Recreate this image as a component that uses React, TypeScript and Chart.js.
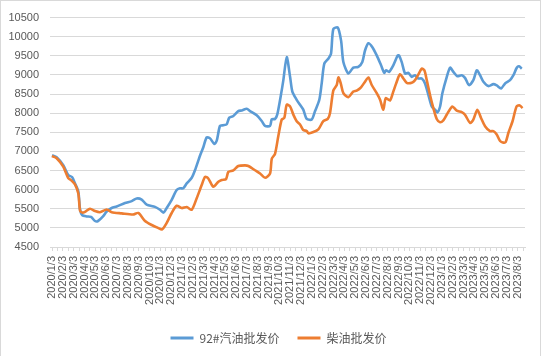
import React, { useEffect, useRef } from "react";
import { Chart, registerables } from "chart.js";

Chart.register(...registerables);

const monthLabels = [
  "2020/1/3", "2020/2/3", "2020/3/3", "2020/4/3", "2020/5/3", "2020/6/3", "2020/7/3", "2020/8/3", "2020/9/3", "2020/10/3", "2020/11/3", "2020/12/3",
  "2021/1/3", "2021/2/3", "2021/3/3", "2021/4/3", "2021/5/3", "2021/6/3", "2021/7/3", "2021/8/3", "2021/9/3", "2021/10/3", "2021/11/3", "2021/12/3",
  "2022/1/3", "2022/2/3", "2022/3/3", "2022/4/3", "2022/5/3", "2022/6/3", "2022/7/3", "2022/8/3", "2022/9/3", "2022/10/3", "2022/11/3", "2022/12/3",
  "2023/1/3", "2023/2/3", "2023/3/3", "2023/4/3", "2023/5/3", "2023/6/3", "2023/7/3", "2023/8/3",
];

// position in months since 2020/1/3
const gasolineMonths = [
  0, 0.43, 1.04, 1.5, 1.85, 2.12, 2.43, 2.59, 2.8, 3.2,
  3.6, 3.97, 4.25, 4.71, 5.05, 5.51, 5.97, 6.74, 7.36, 7.82,
  8.28, 8.74, 9.51, 9.97, 10.28, 10.59, 11.05, 11.51, 11.82, 12.12,
  12.44, 12.9, 13.2, 13.67, 13.97, 14.28, 14.59, 14.99, 15.21, 15.51,
  15.82, 16.13, 16.37, 16.74, 17.2, 17.52, 17.98, 18.28, 18.9, 19.36,
  19.67, 20.13, 20.29, 20.59, 20.8, 21.15, 21.36, 21.67, 21.98, 22.19,
  22.59, 22.9, 23.2, 23.52, 23.98, 24.28, 24.68, 24.9, 25.14, 25.51,
  25.76, 25.97, 26.38, 26.69, 26.9, 27.36, 27.82, 28.28, 28.65, 28.9,
  29.21, 29.58, 29.98, 30.38, 30.68, 30.84, 31.12, 31.51, 31.92, 32.04,
  32.29, 32.6, 32.9, 33.21, 33.52, 33.82, 34.14, 34.44, 34.75, 35.06,
  35.37, 35.58, 35.83, 36.04, 36.45, 36.75, 37.06, 37.42, 37.83, 38.13,
  38.5, 38.9, 39.22, 39.52, 39.83, 40.29, 40.75, 41.06, 41.46, 41.83,
  42.29, 42.6, 42.91, 43.12, 43.37,
];
const gasolinePrices = [
  6900, 6850, 6640, 6380, 6330, 6165, 5950, 5480, 5330, 5300,
  5290, 5180, 5180, 5300, 5430, 5520, 5560, 5650, 5700, 5770,
  5740, 5610, 5550, 5475, 5400, 5520, 5733, 5990, 6035, 6035,
  6163, 6310, 6507, 6894, 7110, 7367, 7341, 7195, 7281, 7668,
  7685, 7711, 7883, 7926, 8055, 8072, 8115, 8055, 7943, 7797,
  7668, 7668, 7840, 7850, 7969, 8500, 8866, 9468, 8952, 8565,
  8350, 8221, 8092, 7851, 7834, 8049, 8350, 8780, 9296, 9425,
  9554, 10199, 10242, 9898, 9339, 9038, 9193, 9210, 9339, 9640,
  9829, 9726, 9511, 9253, 9055, 9124, 9081, 9253, 9511, 9509,
  9337, 9036, 9053, 8950, 8993, 8907, 8907, 8778, 8477, 8176,
  8090, 8021, 8176, 8520, 8950, 9190, 9079, 8967, 8993, 8924,
  8735, 8864, 9122, 8993, 8821, 8709, 8760, 8726, 8649, 8778,
  8864, 8993, 9190, 9225, 9165,
];

const dieselMonths = [
  0, 0.43, 1.04, 1.5, 1.75, 2.12, 2.43, 2.59, 2.8, 3.05,
  3.51, 3.97, 4.43, 5.05, 5.51, 6.44, 7.48, 7.97, 8.59, 9.21,
  9.79, 10.16, 10.59, 11.05, 11.51, 11.98, 12.44, 12.9, 13.36, 13.82,
  14.13, 14.43, 14.89, 15.36, 15.67, 16.07, 16.28, 16.74, 17.2, 17.82,
  18.13, 18.74, 19.21, 19.67, 20.13, 20.29, 20.59, 20.9, 21.21, 21.45,
  21.67, 21.98, 22.28, 22.59, 22.9, 23.2, 23.52, 23.67, 24.13, 24.59,
  25.05, 25.46, 25.67, 25.97, 26.29, 26.44, 26.66, 26.9, 27.36, 27.82,
  28.13, 28.53, 28.9, 29.21, 29.52, 29.98, 30.29, 30.59, 30.81, 31.21,
  31.51, 31.83, 32.13, 32.44, 32.75, 33.21, 33.52, 33.82, 34.14, 34.38,
  34.6, 34.9, 35.21, 35.52, 35.83, 36.13, 36.44, 36.96, 37.37, 37.83,
  38.13, 38.6, 38.9, 39.27, 39.61, 39.98, 40.44, 40.75, 41.06, 41.37,
  41.67, 41.89, 42.14, 42.52, 42.89, 43.19, 43.44,
];
const dieselPrices = [
  6880, 6820, 6600, 6300, 6250, 6140, 5900, 5450, 5400, 5420,
  5500, 5440, 5410, 5480, 5410, 5380, 5350, 5390, 5180, 5075,
  5000, 4960, 5130, 5390, 5578, 5518, 5544, 5475, 5776, 6120,
  6335, 6292, 6077, 6206, 6250, 6275, 6464, 6507, 6619, 6636,
  6619, 6507, 6421, 6310, 6421, 6808, 6937, 7410, 7834, 7877,
  8221, 8178, 7963, 7791, 7705, 7559, 7533, 7473, 7507, 7576,
  7791, 7851, 8006, 8591, 8737, 8935, 8780, 8522, 8419, 8565,
  8591, 8677, 8823, 8935, 8737, 8522, 8350, 8092, 8393, 8333,
  8565, 8823, 9018, 8907, 8795, 8795, 8864, 9010, 9165, 9122,
  8864, 8477, 8133, 7849, 7763, 7814, 7960, 8176, 8064, 8029,
  7960, 7746, 7832, 8090, 7875, 7660, 7531, 7531, 7445, 7273,
  7230, 7247, 7488, 7789, 8176, 8202, 8133,
];

const seriesNames = ["92#汽油批发价", "柴油批发价"];
const seriesColors = ["#5B9BD5", "#ED7D31"];

export default function App() {
  const ref = useRef<HTMLCanvasElement>(null);

  useEffect(() => {
    const canvas = ref.current;
    if (!canvas) return;
    const tickFont = { family: "'Liberation Sans', Arial, sans-serif", size: 11 };
    const chart = new Chart(canvas, {
      type: "line",
      data: {
        datasets: [
          {
            label: seriesNames[0],
            data: gasolineMonths.map((m, i) => ({ x: m, y: gasolinePrices[i] })),
            borderColor: seriesColors[0],
            backgroundColor: seriesColors[0],
            borderWidth: 2.6,
            pointRadius: 0,
            tension: 0.25,
            order: 1,
          },
          {
            label: seriesNames[1],
            data: dieselMonths.map((m, i) => ({ x: m, y: dieselPrices[i] })),
            borderColor: seriesColors[1],
            backgroundColor: seriesColors[1],
            borderWidth: 2.6,
            pointRadius: 0,
            tension: 0.25,
            order: 0,
          },
        ],
      },
      options: {
        animation: false,
        responsive: false,
        maintainAspectRatio: false,
        layout: { padding: { left: 32, top: 13, right: 19, bottom: 2 } },
        scales: {
          x: {
            type: "linear",
            min: -0.185,
            max: 43.67,
            afterBuildTicks: (scale: any) => {
              const t: { value: number }[] = [];
              for (let i = 0; i <= (monthLabels.length - 1) * 2 + 1; i++) t.push({ value: i / 2 });
              scale.ticks = t;
            },
            afterFit: (scale: any) => {
              scale.height = 67;
            },
            ticks: {
              autoSkip: false,
              minRotation: 90,
              maxRotation: 90,
              padding: 5,
              color: "#595959",
              font: tickFont,
              callback: (v: any) => (Number.isInteger(v) ? monthLabels[v] : ""),
            },
            grid: { drawOnChartArea: false, drawTicks: true, tickLength: 4, color: "#d9d9d9" },
            border: { color: "#d9d9d9" },
          },
          y: {
            min: 4500,
            max: 10500,
            afterFit: (scale: any) => {
              scale.width = 18;
              // let the tick labels extend into the left padding
              scale._computeLabelArea = () => undefined;
            },
            ticks: {
              stepSize: 500,
              padding: 11,
              color: "#595959",
              font: tickFont,
              callback: (v: any) => String(v),
            },
            grid: { color: "#d9d9d9", drawTicks: false },
            border: { display: false },
          },
        },
        plugins: {
          legend: {
            position: "bottom",
            labels: {
              boxWidth: 23,
              boxHeight: 3,
              padding: 18,
              color: "#595959",
              font: { family: "'Noto Sans CJK SC', sans-serif", size: 12 },
              sort: (a: any, b: any) => a.datasetIndex - b.datasetIndex,
              generateLabels: (c: any) =>
                Chart.defaults.plugins.legend.labels
                  .generateLabels(c)
                  .map((l: any) => ({ ...l, lineWidth: 0 })),
            },
          },
          tooltip: { enabled: false },
        },
      } as any,
    });
    return () => chart.destroy();
  }, []);

  return (
    <div style={{ position: "fixed", left: 0, top: 0, width: 544, height: 356, overflow: "hidden", background: "#fff" }}>
      <canvas ref={ref} width={544} height={356} style={{ position: "absolute", left: 0, top: 0 }} />
      <div
        style={{
          position: "absolute",
          left: 0,
          top: 0,
          width: 541,
          height: 360,
          boxSizing: "border-box",
          border: "1px solid #d9d9d9",
          pointerEvents: "none",
        }}
      />
    </div>
  );
}
